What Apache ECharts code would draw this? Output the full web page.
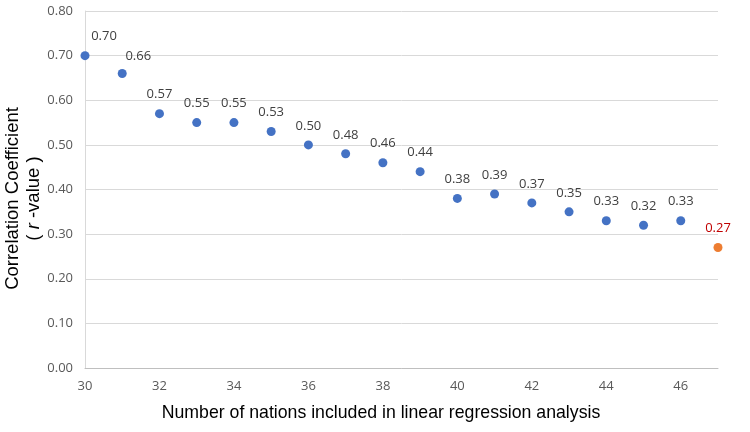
<!DOCTYPE html>
<html><head><meta charset="utf-8">
<script src="https://cdn.jsdelivr.net/npm/echarts@6/dist/echarts.min.js"></script>
<style>html,body{margin:0;padding:0;background:#fff}#c{width:750px;height:432px}</style>
</head><body><div id="c"></div>
<script>
const nations = [30,31,32,33,34,35,36,37,38,39,40,41,42,43,44,45,46];
const rValues = [0.70,0.66,0.57,0.55,0.55,0.53,0.50,0.48,0.46,0.44,0.38,0.39,0.37,0.35,0.33,0.32,0.33];
const lastNation = [47];
const lastValue = [0.27];
const yTicks = [0,0.1,0.2,0.3,0.4,0.5,0.6,0.7,0.8];

const mainData = nations.map((n,i)=>{
  const d = {value:[n, rValues[i]]};
  if (i===0) d.label = {offset:[19,0]};
  if (i===1) d.label = {offset:[16,2]};
  return d;
});
const chart = echarts.init(document.getElementById('c'));
chart.setOption({
  animation:false,
  grid:{left:85,right:32,top:11,bottom:64,outerBoundsMode:'none',containLabel:false},
  xAxis:{type:'value',min:30,max:47,interval:2,
    name:'Number of nations included in linear regression analysis',
    nameLocation:'middle',nameGap:36,nameMoveOverlap:false,
    nameTextStyle:{fontFamily:'Liberation Sans',fontSize:17.7,color:'#000',padding:[0,41,0,0]},
    axisLine:{lineStyle:{color:'#bfbfbf'}},axisTick:{show:false},
    splitLine:{show:false},
    axisLabel:{fontFamily:'Open Sans',fontSize:13,color:'#595959',margin:12,
      formatter:v=> (v>46?'':String(v))}},
  yAxis:{type:'value',min:0,max:0.8,interval:0.1,
    name:'{a|Correlation Coefficient}\n{b|( }{i|r}{b| -value )}',
    nameLocation:'middle',nameGap:41,nameRotate:90,nameMoveOverlap:false,
    nameTextStyle:{fontFamily:'Liberation Sans',fontSize:18.5,color:'#000',lineHeight:21,padding:[0,18,0,0],
      rich:{a:{fontFamily:'Liberation Sans',fontSize:18.5,color:'#000',lineHeight:21},
            b:{fontFamily:'Liberation Sans',fontSize:18.5,color:'#000',lineHeight:21},
            i:{fontFamily:'Liberation Sans',fontSize:18.5,color:'#000',fontStyle:'italic',lineHeight:21}}},
    axisLine:{show:true,lineStyle:{color:'#d9d9d9'}},axisTick:{show:false},
    splitLine:{lineStyle:{color:'#d9d9d9'}},
    axisLabel:{fontFamily:'Open Sans',fontSize:13,color:'#595959',margin:12,
      formatter:v=>v.toFixed(2)}},
  series:[
    {type:'scatter',symbolSize:9,itemStyle:{color:'#4472C4',opacity:1},data:mainData,
     label:{show:true,position:'top',distance:8,fontFamily:'Open Sans',fontSize:13,color:'#404040',
       formatter:p=>p.value[1].toFixed(2)}},
    {type:'scatter',symbolSize:9,itemStyle:{color:'#ED7D31',opacity:1},
     data:lastNation.map((n,i)=>[n,lastValue[i]]),
     label:{show:true,position:'top',distance:8,fontFamily:'Open Sans',fontSize:13,color:'#C00000',
       formatter:p=>p.value[1].toFixed(2)}}
  ]
});
</script></body></html>
